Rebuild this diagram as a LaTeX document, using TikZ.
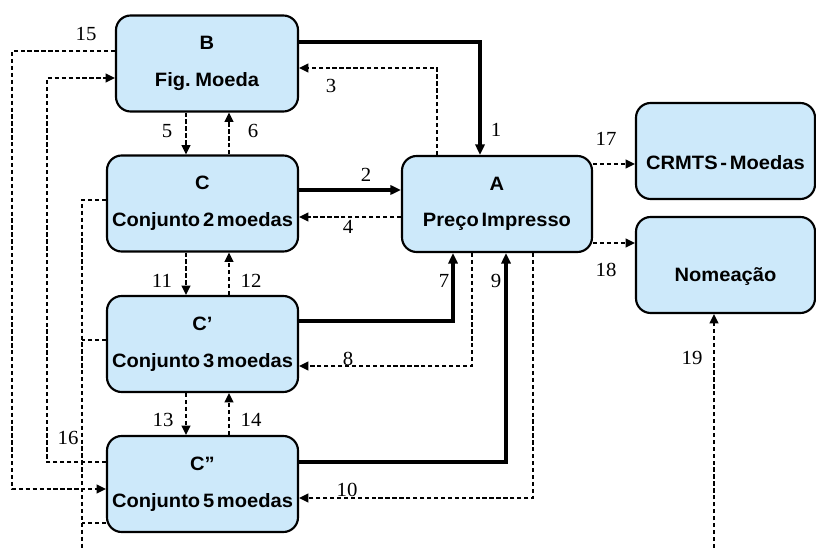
\documentclass[tikz,border=0pt]{standalone}
\usepackage{fontspec}
\usepackage{tikz}
\usetikzlibrary{arrows.meta}
\newfontfamily\boxfont[FakeStretch=1.04,WordSpace=0.5]{Liberation Sans}
\newfontfamily\numfont[FakeStretch=1.04]{Liberation Serif}
\definecolor{boxblue}{RGB}{205,233,250}

\begin{document}
\begin{tikzpicture}[x=0.75pt,y=-0.75pt,
    etapa/.style={draw=black, fill=boxblue, line width=1.6pt, rounded corners=11pt,
      minimum width=#1*0.75pt, minimum height=96*0.75pt, inner sep=0pt, align=center,
      font=\boxfont\bfseries\fontsize{14.5}{27.5}\selectfont},
    etapa/.default=191,
    num/.style={font=\numfont\fontsize{15}{17}\selectfont, inner sep=0pt},
    cheia/.style={line width=2.4pt, -{Triangle[length=8pt,width=7pt]}},
    tracejada/.style={line width=1.3pt, dash pattern=on 3.2pt off 2pt, -{Triangle[length=7pt,width=6.5pt]}},
    semponta/.style={line width=1.3pt, dash pattern=on 3.2pt off 2pt}]
               \useasboundingbox (0,0) rectangle (816,548);
               % caixas
               \node[etapa=182] (B) at (207,63.5) {B\\Fig. Moeda};
               \node[etapa] (C) at (202.5,203.5) {C\\Conjunto 2 moedas};
               \node[etapa] (Cp) at (202.5,344) {C’\\Conjunto 3 moedas};
               \node[etapa] (Cpp) at (202.5,484) {C”\\Conjunto 5 moedas};
               \node[etapa=190] (A) at (497,204) {A\\Preço Impresso};
               \node[etapa=179] (CR) at (725.5,151) {\mbox{}\\CRMTS - Moedas};
               \node[etapa=179] (Nm) at (725.5,265) {\mbox{}\\Nomeação};
               \coordinate (fim16) at (82,548);
               \coordinate (ini19) at (714,548);
               % ligacoes
               \draw[cheia] (B.east |- 0,42) -| (A.north -| 480,0);
               \draw[tracejada] (A.north -| 437,0) |- (B.east |- 0,68);
               \draw[tracejada] (B.south -| 186,0) -- (C.north -| 186,0);
               \draw[tracejada] (C.north -| 229,0) -- (B.south -| 229,0);
               \draw[cheia] (C.east |- 0,190) -- (A.west |- 0,190);
               \draw[tracejada] (A.west |- 0,217) -- (C.east |- 0,217);
               \draw[tracejada] (C.south -| 186,0) -- (Cp.north -| 186,0);
               \draw[tracejada] (Cp.north -| 229,0) -- (C.south -| 229,0);
               \draw[cheia] (Cp.east |- 0,321) -| (A.south -| 453,0);
               \draw[tracejada] (A.south -| 472,0) |- (Cp.east |- 0,366);
               \draw[cheia] (Cpp.east |- 0,462) -| (A.south -| 506,0);
               \draw[tracejada] (A.south -| 533,0) |- (Cpp.east |- 0,498);
               \draw[tracejada] (Cp.south -| 186,0) -- (Cpp.north -| 186,0);
               \draw[tracejada] (Cpp.north -| 229,0) -- (Cp.south -| 229,0);
               \draw[tracejada] (B.west |- 0,51) -- (12,51) |- (Cpp.west |- 0,489);
               \draw[tracejada] (Cpp.west |- 0,462) -- (47,462) |- (B.west |- 0,78);
               \draw[semponta] (C.west |- 0,200) -| (fim16);
               \draw[semponta] (Cp.west |- 0,340) -- (82,340);
               \draw[semponta] (Cpp.west |- 0,523) -- (82,523);
               \draw[tracejada] (A.east |- 0,164) -- (CR.west |- 0,164);
               \draw[tracejada] (A.east |- 0,243) -- (Nm.west |- 0,243);
               \draw[tracejada] (ini19) -- (Nm.south -| ini19);
               % numeros
               \node[num] (n1) at (496,130) {1};
               \node[num] (n2) at (366,175) {2};
               \node[num] (n3) at (331,86) {3};
               \node[num] (n4) at (348,227) {4};
               \node[num] (n5) at (167,131) {5};
               \node[num] (n6) at (253,131) {6};
               \node[num] (n7) at (444,281) {7};
               \node[num] (n8) at (348,359) {8};
               \node[num] (n9) at (496,281) {9};
               \node[num] (n10) at (347,490) {10};
               \node[num] (n11) at (162,281) {11};
               \node[num] (n12) at (251,281) {12};
               \node[num] (n13) at (163,420) {13};
               \node[num] (n14) at (251,420) {14};
               \node[num] (n15) at (86,34) {15};
               \node[num] (n16) at (68,438) {16};
               \node[num] (n17) at (606,139) {17};
               \node[num] (n18) at (606,270) {18};
               \node[num] (n19) at (692,358) {19};
\end{tikzpicture}
\end{document}
